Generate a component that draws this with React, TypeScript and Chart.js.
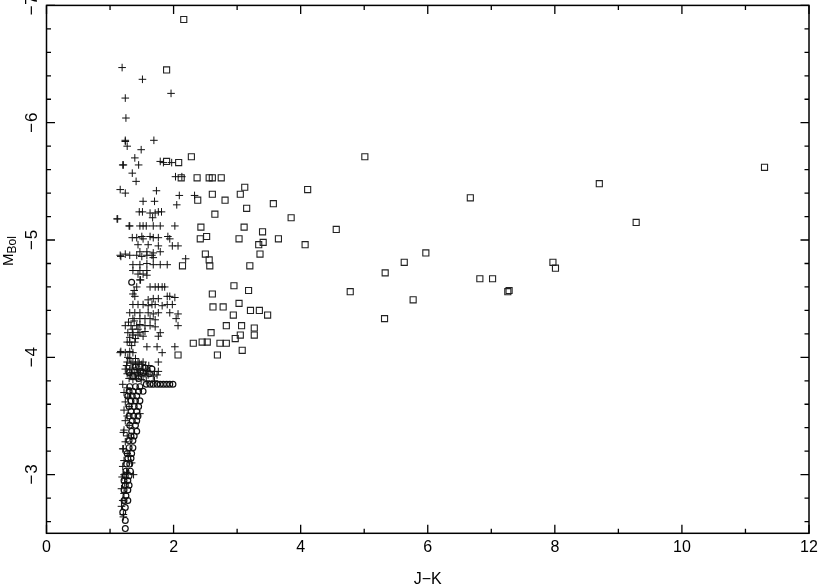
import React, { useEffect, useRef } from 'react';
import { Chart, registerables } from 'chart.js';

Chart.register(...registerables);

const xRange = [0, 12];
const yRange = [-7, -2.5];
const xTicks = [0, 2, 4, 6, 8, 10, 12];
const yTicks = [-3, -4, -5, -6, -7];
const xTitle = 'J\u2212K';
const yTitleMain = 'M';
const yTitleSub = 'Bol';

const squarePoints: [number, number][] = [
  [2.16, -6.88], [1.89, -6.45], [1.89, -5.67], [2.28, -5.71], [2.08, -5.66], [2.12, -5.53], [2.37, -5.53],
  [2.56, -5.53], [2.61, -5.53], [2.75, -5.53], [3.12, -5.45], [4.11, -5.43], [2.61, -5.39], [3.05, -5.39],
  [2.38, -5.34], [2.81, -5.34], [3.57, -5.31], [3.15, -5.27], [2.65, -5.22], [3.85, -5.19], [2.43, -5.11],
  [3.11, -5.11], [3.40, -5.07], [2.42, -5.01], [2.52, -5.03], [3.03, -5.01], [3.65, -5.01], [3.41, -4.98],
  [3.34, -4.96], [4.07, -4.96], [3.36, -4.88], [2.50, -4.88], [2.56, -4.83], [2.14, -4.78], [2.57, -4.78],
  [3.20, -4.78], [2.95, -4.61], [3.18, -4.57], [2.61, -4.54], [2.62, -4.43], [2.78, -4.43], [3.03, -4.46],
  [2.94, -4.36], [3.21, -4.40], [3.35, -4.40], [3.48, -4.36], [2.83, -4.27], [3.07, -4.27], [3.27, -4.25],
  [2.59, -4.21], [3.05, -4.19], [3.27, -4.19], [2.97, -4.16], [2.31, -4.12], [2.45, -4.13], [2.53, -4.13],
  [2.73, -4.12], [2.83, -4.12], [3.08, -4.06], [2.07, -4.02], [2.69, -4.02],
  [5.01, -5.71], [6.67, -5.36], [4.56, -5.09], [5.97, -4.89], [5.63, -4.81], [5.33, -4.72], [7.97, -4.81],
  [8.01, -4.76], [6.82, -4.67], [7.02, -4.67], [7.28, -4.57], [7.26, -4.56], [4.78, -4.56], [5.77, -4.49],
  [5.32, -4.33], [11.30, -5.62], [8.70, -5.48], [9.28, -5.15],
];

const plusPoints: [number, number][] = [
  [1.19, -6.47], [1.51, -6.37], [1.96, -6.25], [1.24, -6.21], [1.25, -6.04], [1.24, -5.85], [1.24, -5.84],
  [1.27, -5.80], [1.69, -5.85], [1.49, -5.77], [1.39, -5.70], [1.20, -5.64], [1.21, -5.64], [1.45, -5.64],
  [1.79, -5.67], [1.84, -5.66], [1.97, -5.66], [1.35, -5.57], [1.41, -5.50], [2.03, -5.54], [2.13, -5.54],
  [1.16, -5.43], [1.24, -5.40], [1.73, -5.42], [2.09, -5.38], [2.33, -5.38], [1.52, -5.33], [1.70, -5.33],
  [2.05, -5.30],
  [1.46, -5.24], [1.51, -5.24], [1.63, -5.23], [1.71, -5.23], [1.76, -5.24], [1.81, -5.24], [1.67, -5.19],
  [1.11, -5.18], [1.12, -5.18], [1.30, -5.12], [1.31, -5.12], [1.47, -5.12], [1.52, -5.12], [1.57, -5.12],
  [1.68, -5.12], [1.79, -5.12], [2.02, -5.12],
  [1.35, -5.02], [1.42, -5.02], [1.50, -5.03], [1.52, -5.01], [1.63, -5.03], [1.68, -5.02], [1.76, -5.02],
  [1.91, -5.03], [1.94, -5.01],
  [1.44, -4.96], [1.60, -4.96], [1.76, -4.95], [1.98, -4.95], [2.07, -4.95],
  [1.47, -4.90], [1.58, -4.90], [1.68, -4.89], [1.79, -4.90],
  [1.16, -4.87], [1.17, -4.86], [1.24, -4.88], [1.31, -4.87], [1.42, -4.87], [1.50, -4.86], [1.58, -4.87],
  [1.66, -4.87], [1.68, -4.85], [2.19, -4.84],
  [1.36, -4.79], [1.47, -4.79], [1.58, -4.80], [1.68, -4.79], [1.79, -4.79], [1.90, -4.79],
  [1.36, -4.74], [1.47, -4.74], [1.58, -4.74], [1.44, -4.71], [1.52, -4.71], [1.58, -4.70],
  [1.47, -4.66], [1.48, -4.66],
  [1.42, -4.60], [1.63, -4.60], [1.71, -4.60], [1.76, -4.60], [1.82, -4.60], [1.86, -4.60],
  [1.36, -4.54], [1.38, -4.57], [1.39, -4.52], [1.90, -4.52], [1.94, -4.52], [2.02, -4.51],
  [1.60, -4.49], [1.68, -4.50], [1.76, -4.50],
  [1.36, -4.45], [1.44, -4.45], [1.52, -4.45], [1.60, -4.44], [1.66, -4.45], [1.71, -4.45], [1.82, -4.44],
  [1.90, -4.45], [1.98, -4.45],
  [1.31, -4.38], [1.39, -4.38], [1.47, -4.38], [1.60, -4.38], [1.68, -4.37], [1.76, -4.38], [1.94, -4.38],
  [2.07, -4.37],
  [1.36, -4.33], [1.47, -4.33], [1.55, -4.33], [1.63, -4.33], [1.71, -4.32], [2.04, -4.33],
  [1.24, -4.27], [1.33, -4.27], [1.42, -4.27], [1.47, -4.28], [1.55, -4.27], [1.63, -4.27], [1.71, -4.26],
  [2.07, -4.27], [1.29, -4.30], [1.38, -4.31], [1.44, -4.24], [1.35, -4.24],
  [1.28, -4.21], [1.36, -4.21], [1.47, -4.21], [1.55, -4.22], [1.79, -4.21], [1.31, -4.17], [1.40, -4.16],
  [1.36, -4.19], [1.44, -4.19], [1.52, -4.18], [1.76, -4.18],
  [1.27, -4.13], [1.31, -4.13], [1.39, -4.13], [1.58, -4.09], [1.74, -4.09], [2.02, -4.09], [1.34, -4.10],
  [1.16, -4.04], [1.17, -4.05], [1.24, -4.04], [1.31, -4.05], [1.36, -4.04], [1.82, -4.04], [1.28, -4.00],
  [1.27, -3.96], [1.36, -3.96], [1.44, -3.96], [1.52, -3.96], [1.76, -3.96], [1.31, -3.99], [1.40, -3.99],
  [1.33, -3.95], [1.40, -3.94], [1.46, -3.95], [1.50, -3.94], [1.56, -3.93], [1.61, -3.93],
  [1.24, -3.90], [1.31, -3.90], [1.36, -3.91], [1.42, -3.90], [1.47, -3.89], [1.52, -3.90], [1.58, -3.89],
  [1.63, -3.88], [1.70, -3.88], [1.76, -3.88], [1.27, -3.86], [1.33, -3.85], [1.39, -3.86], [1.45, -3.85],
  [1.52, -3.84], [1.60, -3.85], [1.68, -3.84], [1.74, -3.85], [1.30, -3.82], [1.36, -3.81], [1.42, -3.82],
  [1.49, -3.81], [1.57, -3.80], [1.70, -3.80], [1.26, -3.93], [1.34, -3.87], [1.44, -3.87], [1.55, -3.86],
  [1.20, -3.77], [1.27, -3.74], [1.22, -3.70], [1.28, -3.66], [1.24, -3.62], [1.30, -3.58], [1.22, -3.55],
  [1.27, -3.50], [1.24, -3.46], [1.47, -3.52], [1.30, -3.42], [1.22, -3.38], [1.21, -3.36], [1.27, -3.33],
  [1.24, -3.28], [1.21, -3.22], [1.20, -3.22], [1.27, -3.18], [1.34, -3.10], [1.22, -3.12], [1.20, -3.07],
  [1.26, -3.02], [1.22, -3.00], [1.37, -3.00], [1.19, -2.98], [1.23, -2.93], [1.18, -2.88], [1.22, -2.84],
  [1.20, -2.78], [1.18, -2.73], [1.21, -2.66], [1.21, -2.64],
];

const circlePoints: [number, number][] = [
  [1.34, -4.64], [1.40, -3.92], [1.48, -3.88], [1.55, -3.91], [1.62, -3.86], [1.66, -3.90], [1.36, -3.84],
  [1.45, -3.82], [1.30, -3.87], [1.52, -3.87],
  [1.57, -3.77], [1.63, -3.77], [1.68, -3.77], [1.74, -3.77], [1.79, -3.77], [1.84, -3.77], [1.89, -3.77],
  [1.94, -3.77], [1.99, -3.77],
  [1.31, -3.75], [1.40, -3.75], [1.47, -3.75], [1.30, -3.71], [1.36, -3.71], [1.45, -3.71], [1.52, -3.71],
  [1.28, -3.67], [1.35, -3.67], [1.42, -3.67], [1.33, -3.63], [1.40, -3.63], [1.47, -3.63],
  [1.30, -3.58], [1.38, -3.58], [1.45, -3.58], [1.33, -3.54], [1.42, -3.54], [1.30, -3.50], [1.37, -3.50],
  [1.44, -3.50], [1.35, -3.46], [1.42, -3.46], [1.31, -3.42], [1.40, -3.42], [1.34, -3.37], [1.42, -3.37],
  [1.33, -3.33], [1.38, -3.33], [1.30, -3.29], [1.36, -3.29], [1.30, -3.23], [1.36, -3.23], [1.27, -3.18],
  [1.34, -3.18], [1.28, -3.14], [1.33, -3.14], [1.26, -3.09], [1.31, -3.09], [1.25, -3.03], [1.32, -3.03],
  [1.24, -2.99], [1.30, -2.99], [1.22, -2.95], [1.28, -2.95], [1.24, -2.91], [1.30, -2.91], [1.22, -2.87],
  [1.28, -2.87], [1.25, -2.82], [1.22, -2.78], [1.28, -2.78], [1.24, -2.72], [1.20, -2.68], [1.24, -2.61],
  [1.24, -2.54],
];

const ink = '#111111';

const axesPlugin = {
  id: 'pgAxes',
  afterDraw(chart: any) {
    const { ctx, chartArea, scales } = chart;
    const { left, right, top, bottom } = chartArea;
    const xs = scales.x;
    const ys = scales.y;
    ctx.save();
    ctx.strokeStyle = '#000';
    ctx.fillStyle = '#000';
    ctx.lineWidth = 1.5;
    ctx.strokeRect(left, top, right - left, bottom - top);
    ctx.lineWidth = 1.3;
    for (let i = 0; i <= 12; i++) {
      const v = xRange[0] + i;
      const px = xs.getPixelForValue(v);
      const major = xTicks.includes(v);
      const len = major ? 8.5 : 4.5;
      ctx.beginPath();
      ctx.moveTo(px, bottom);
      ctx.lineTo(px, bottom - len);
      ctx.moveTo(px, top);
      ctx.lineTo(px, top + len);
      ctx.stroke();
    }
    for (let i = 0; i <= 22; i++) {
      const v = yRange[0] + i * 0.2;
      const py = ys.getPixelForValue(v);
      const major = yTicks.some((t) => Math.abs(t - v) < 1e-6);
      const len = major ? 8.5 : 4.5;
      ctx.beginPath();
      ctx.moveTo(left, py);
      ctx.lineTo(left + len, py);
      ctx.moveTo(right, py);
      ctx.lineTo(right - len, py);
      ctx.stroke();
    }
    ctx.font = '16px "Liberation Sans", Arial, sans-serif';
    ctx.textAlign = 'center';
    ctx.textBaseline = 'middle';
    xTicks.forEach((v) => {
      ctx.fillText(String(v), xs.getPixelForValue(v), 548);
    });
    ctx.font = '17px "Liberation Sans", Arial, sans-serif';
    yTicks.forEach((v) => {
      const py = ys.getPixelForValue(v);
      ctx.save();
      ctx.translate(31, py);
      ctx.rotate(-Math.PI / 2);
      ctx.textAlign = 'center';
      ctx.fillText('\u2212', -5, 1);
      ctx.fillText(String(Math.abs(v)), 5.5, 1);
      ctx.restore();
    });
    ctx.font = '16px "Liberation Sans", Arial, sans-serif';
    ctx.fillText(xTitle, (left + right) / 2, 580);
    ctx.save();
    ctx.translate(9, 266);
    ctx.rotate(-Math.PI / 2);
    ctx.textAlign = 'left';
    ctx.textBaseline = 'middle';
    ctx.font = '15px "Liberation Sans", Arial, sans-serif';
    ctx.fillText(yTitleMain, 0, 0);
    const mw = ctx.measureText(yTitleMain).width;
    ctx.font = '12px "Liberation Sans", Arial, sans-serif';
    ctx.fillText(yTitleSub, mw, 4);
    ctx.restore();
    ctx.restore();
  },
};

export default function App() {
  const ref = useRef<HTMLCanvasElement | null>(null);
  useEffect(() => {
    if (!ref.current) return;
    const toXY = (arr: [number, number][]) => arr.map(([x, y]) => ({ x, y }));
    const chart = new Chart(ref.current, {
      type: 'scatter',
      data: {
        datasets: [
          {
            label: 'plus',
            data: toXY(plusPoints),
            pointStyle: 'cross',
            pointRadius: 3.8,
            borderColor: ink,
            backgroundColor: 'transparent',
            borderWidth: 1,
          },
          {
            label: 'circle',
            data: toXY(circlePoints),
            pointStyle: 'circle',
            pointRadius: 2.9,
            borderColor: ink,
            backgroundColor: 'transparent',
            borderWidth: 1.2,
          },
          {
            label: 'square',
            data: toXY(squarePoints),
            pointStyle: 'rect',
            pointRadius: 4.3,
            borderColor: '#222222',
            backgroundColor: 'transparent',
            borderWidth: 1.1,
          },
        ],
      },
      options: {
        responsive: false,
        animation: false,
        devicePixelRatio: 1,
        layout: { padding: { left: 46.5, right: 10, top: 1.4, bottom: 54.7 } },
        plugins: { legend: { display: false }, tooltip: { enabled: false } },
        scales: {
          x: { type: 'linear', min: xRange[0], max: xRange[1], display: false },
          y: { type: 'linear', min: yRange[0], max: yRange[1], reverse: true, display: false },
        },
      },
      plugins: [axesPlugin],
    });
    return () => chart.destroy();
  }, []);
  return (
    <div style={{ position: 'fixed', left: 0, top: 0, width: 819, height: 588, background: '#fff' }}>
      <canvas ref={ref} width={819} height={588} />
    </div>
  );
}
